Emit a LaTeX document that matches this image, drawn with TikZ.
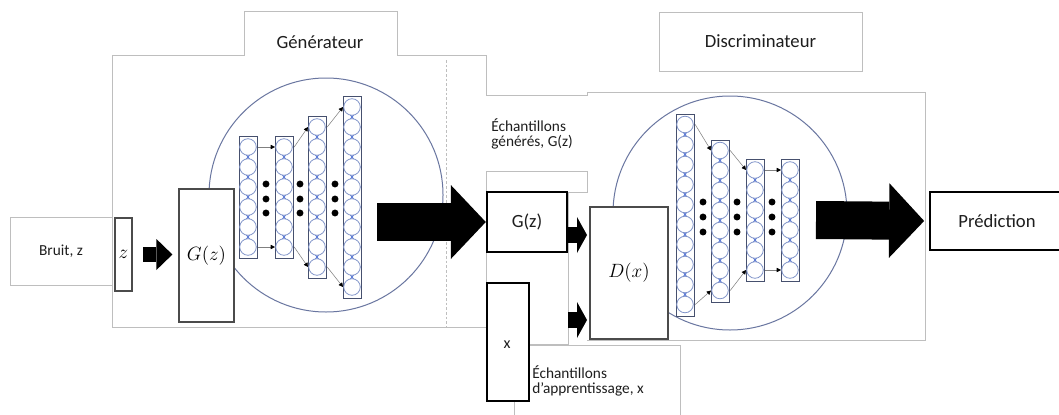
\documentclass[tikz,border=0pt]{standalone}
\usepackage{fontspec}
\setmainfont{Carlito}
\usepackage{tikz}
\usetikzlibrary{positioning,calc,arrows.meta}

\definecolor{panelgray}{RGB}{190,190,190}
\definecolor{boxgray}{RGB}{75,75,75}
\definecolor{netblue}{RGB}{105,118,160}
\definecolor{crossblue}{RGB}{95,125,215}
\definecolor{unitblue}{RGB}{125,145,200}
\definecolor{layergray}{RGB}{70,80,110}
\definecolor{inkgray}{RGB}{30,30,30}

\tikzset{
    panel/.style={draw=panelgray, line width=0.75pt},
    labelbox/.style={draw=panelgray, fill=white, line width=0.75pt, inner sep=0pt},
    mathbox/.style={draw=boxgray, fill=white, line width=0.9pt, inner sep=0pt, font=\fontsize{14}{16}\selectfont},
    thickbox/.style={draw=black, fill=white, line width=1.8pt, inner sep=0pt},
    bigtext/.style={text=inkgray, font=\fontsize{14}{16}\selectfont},
    smalltext/.style={text=inkgray, font=\fontsize{11.5}{11.6}\selectfont, align=left, inner sep=0pt},
    bigcirc/.style={circle, draw=netblue, line width=0.75pt, minimum size=175.5pt, inner sep=0pt},
    layerbox/.style={draw=layergray, fill=white, line width=0.9pt, minimum width=13.5pt, inner sep=0pt},
    crossline/.style={draw=crossblue, line width=0.7pt},
    unitcirc/.style={draw=unitblue, fill=white, line width=0.6pt},
    netarrow/.style={draw=gray, line width=0.4pt, -{Triangle[length=3.2pt,width=3.2pt,black]}},
    dotmark/.style={fill=black},
}

% one layer of units: name, left x, top y, number of units
\newcommand{\nnlayer}[4]{%
    \node[layerbox, minimum height={15pt*#4+1.5pt}, anchor=north west] (#1) at (#2,#3) {};
    \foreach \k in {2,...,#4}{
        \draw[crossline] (#2+1,#3+20*\k-29) -- (#2+17,#3+20*\k-9)
                         (#2+17,#3+20*\k-29) -- (#2+1,#3+20*\k-9);
    }
    \foreach \k in {1,...,#4}
        \draw[unitcirc] (#2+9,#3+20*\k-9) circle[radius=6.2pt];
    \coordinate (#1-t) at (#2+9,#3+11);
    \coordinate (#1-b) at (#2+9,#3+20*#4-9);
}

\begin{document}
\begin{tikzpicture}[x=0.75pt, y=-0.75pt]
    % Background
    \fill[white] (0,0) rectangle (1059,414);
    \useasboundingbox (0,0) rectangle (1059,414);

    % Panels
    \draw[panel] (486,95) -- (486,55) -- (397,55) -- (397,11) -- (244,11) -- (244,55)
        -- (112,55) -- (112,327) -- (486,327);
    \draw[panel] (486,95) -- (587,95) -- (587,92) -- (925,92) -- (925,340) -- (587,340);
    \draw[panelgray, line width=0.6pt, dash pattern=on 2pt off 1.5pt] (446,60) -- (446,327);
    \node[bigtext] (gentitle) at (320,42) {Générateur};
    \node[labelbox, bigtext, minimum width=152.25pt, minimum height=44.25pt] (disctitle) at (760.5,41.5) {Discriminateur};

    % Generator network
    \node[bigcirc] (gencirc) at (326,195) {};
    \nnlayer{ga}{239}{136}{6}
    \nnlayer{gb}{275}{136}{6}
    \nnlayer{gc}{308}{116}{8}
    \nnlayer{gd}{343}{96}{10}
    \draw[netarrow] (ga-t -| ga.east) -- (ga-t -| gb.west);
    \draw[netarrow] (ga-b -| ga.east) -- (ga-b -| gb.west);
    \draw[netarrow] (gb-t -| gb.east) -- (gc-t -| gc.west);
    \draw[netarrow] (gb-b -| gb.east) -- (gc-b -| gc.west);
    \draw[netarrow] (gc-t -| gc.east) -- (gd-t -| gd.west);
    \draw[netarrow] (gc-b -| gc.east) -- (gd-b -| gd.west);
    \foreach \x in {266,300,335}
        \foreach \y in {184,199,213}
            \fill[dotmark] (\x,\y) circle[radius=2.6pt];

    % Discriminator network
    \node[bigcirc] (disccirc) at (730,213) {};
    \nnlayer{da}{676}{113.5}{10}
    \nnlayer{db}{711}{139.5}{8}
    \nnlayer{dc}{746}{159}{6}
    \nnlayer{dd}{781}{159}{6}
    \draw[netarrow] (da-t -| da.east) -- (db-t -| db.west);
    \draw[netarrow] (da-b -| da.east) -- (db-b -| db.west);
    \draw[netarrow] (db-t -| db.east) -- (dc-t -| dc.west);
    \draw[netarrow] (db-b -| db.east) -- (dc-b -| dc.west);
    \draw[netarrow] (dc-t -| dc.east) -- (dc-t -| dd.west);
    \draw[netarrow] (dc-b -| dc.east) -- (dc-b -| dd.west);
    \foreach \x in {703,737,772}
        \foreach \y in {202,217,232}
            \fill[dotmark] (\x,\y) circle[radius=2.6pt];

    % Samples
    \filldraw[panel, fill=white] (486,171) -- (587,171) -- (587,192) -- (568,192) -- (568,344)
        -- (486,344) -- cycle;
    \filldraw[panel, fill=white] (514,345) rectangle (680,420);
    \node[smalltext, anchor=north west] (genlabel) at (491,118) {Échantillons\\générés, G(z)};
    \node[smalltext, anchor=north west] (reallabel) at (532,365) {Échantillons\\d’apprentissage, x};
    \node[thickbox, bigtext, minimum width=60pt, minimum height=45pt] (gzs) at (527,222) {G(z)};
    \node[thickbox, minimum width=31.5pt, minimum height=88.5pt] (xs) at (508,342) {};
    \node[smalltext, font=\fontsize{12}{12}\selectfont] (xlabel) at (507,345) {x};

    % Boxes
    \node[labelbox, bigtext, font=\fontsize{11.5}{12}\selectfont, minimum width=76.5pt, minimum height=51pt] (noise) at (61,251) {Bruit, z};
    \node[mathbox, minimum width=12.75pt, minimum height=54.75pt] (zbox) at (123.5,254.5) {$z$};
    \node[mathbox, minimum width=41.25pt, minimum height=99.75pt] (gbox) at (206.5,255.5) {$G(z)$};
    \node[mathbox, minimum width=58.5pt, minimum height=99pt] (dbox) at (629,273) {$D(x)$};
    \node[thickbox, bigtext, minimum width=100.5pt, minimum height=43.5pt] (pred) at (997,221) {Prédiction};

    % Block arrows
    \coordinate (genout) at (377,222);
    \coordinate (discout) at (816,220);
    \coordinate (dxin1) at (587,235);
    \coordinate (dxin2) at (587,320);
    \draw[line width=11.25pt, shorten <=8pt, shorten >=4.5pt,
        -{Triangle[length=12pt, width=23.25pt, line width=0pt]}] (zbox.east) -- (zbox.east -| gbox.west);
    \draw[line width=28.5pt, -{Triangle[length=26.25pt, width=55.5pt, line width=0pt]}] (genout) -- (gzs.west);
    \draw[line width=12pt, -{Triangle[length=7.5pt, width=27pt, line width=0pt]}] (dxin1 -| gzs.east) -- (dxin1);
    \draw[line width=12pt, -{Triangle[length=7.5pt, width=27pt, line width=0pt]}] (dxin2 -| gzs.east) -- (dxin2);
    \draw[line width=28.5pt, shorten >=3.5pt, -{Triangle[length=26.25pt, width=56pt, line width=0pt]}] (discout) -- (pred.west);
\end{tikzpicture}
\end{document}
